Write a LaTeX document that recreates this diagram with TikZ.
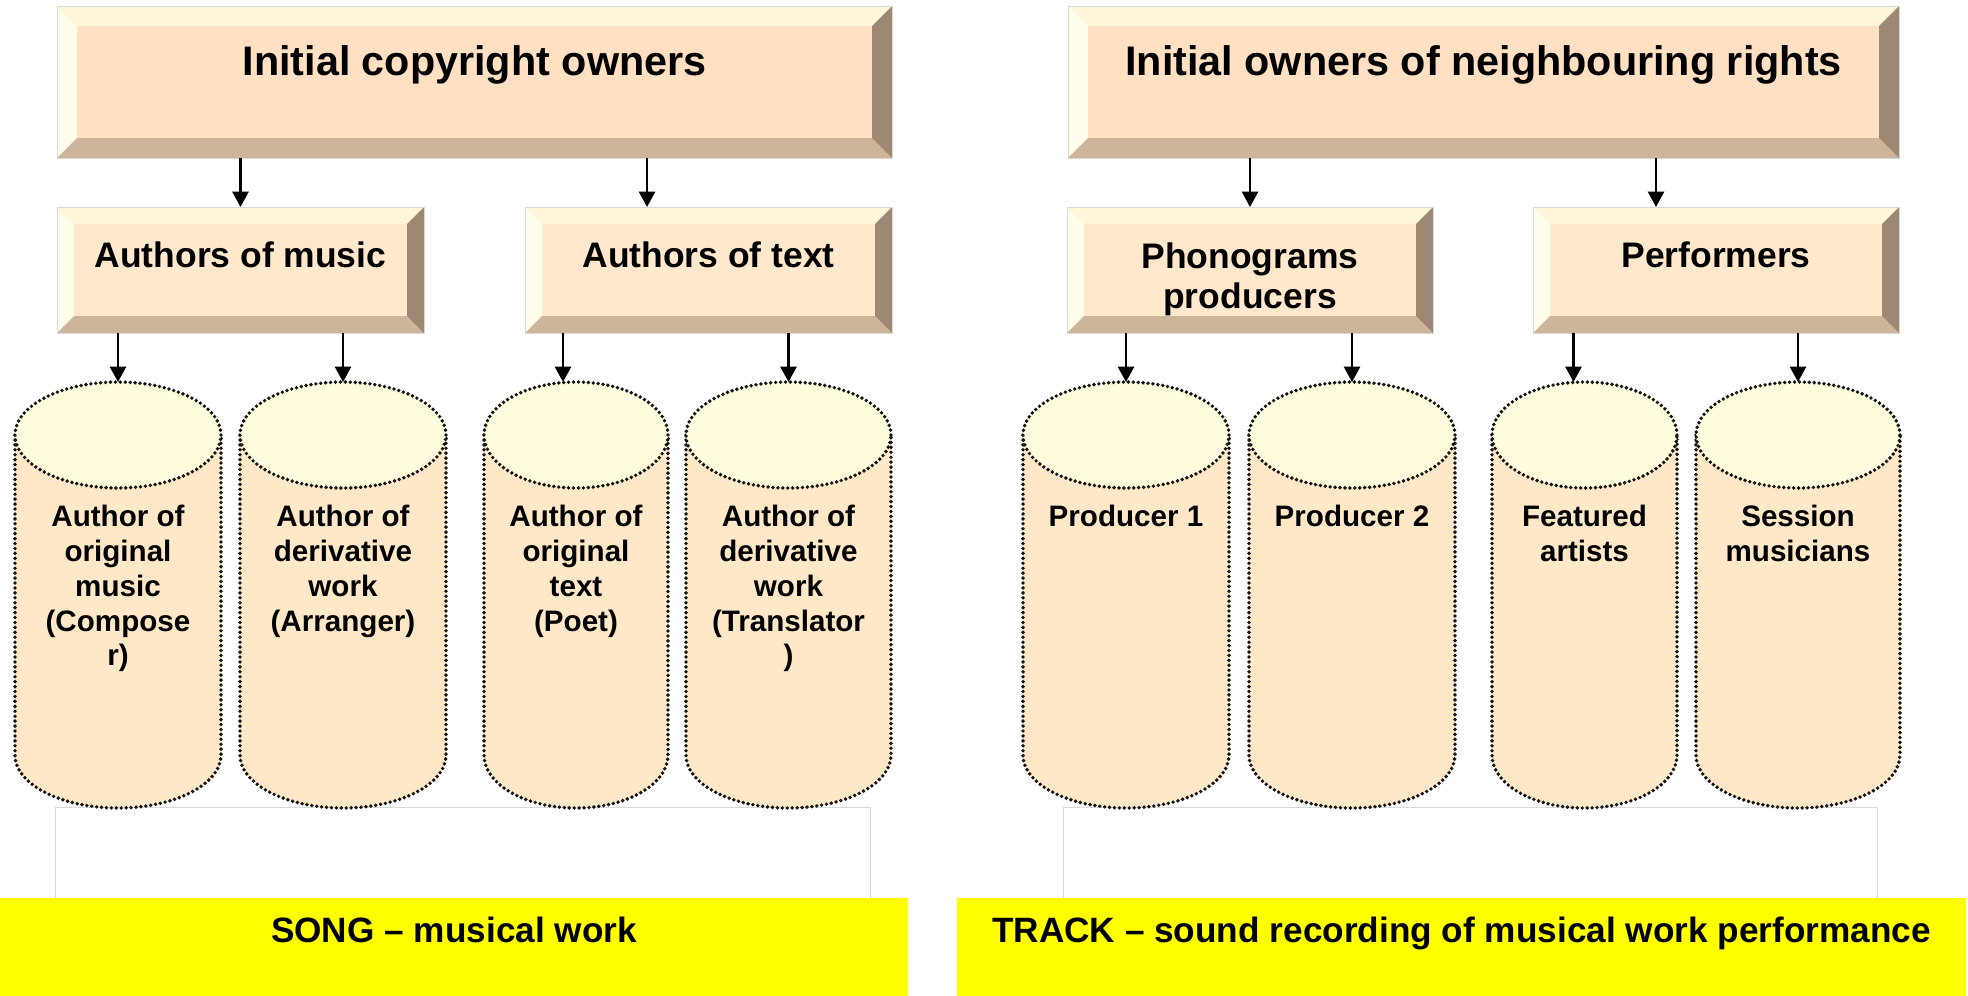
\documentclass[tikz,border=0pt]{standalone}
\usepackage{fontspec}
\setmainfont{Liberation Sans}
\usetikzlibrary{arrows.meta,fit}

\definecolor{bvtopc}{HTML}{FFF5D9}
\definecolor{bvleftc}{HTML}{FFFDE9}
\definecolor{bvbotc}{HTML}{CDB59B}
\definecolor{bvrightc}{HTML}{9C8873}
\definecolor{faceA}{HTML}{FFE0C2}
\definecolor{faceB}{HTML}{FFE8CC}
\definecolor{cyltopc}{HTML}{FFFDDE}
\definecolor{cylbodyc}{HTML}{FFE8C8}
\definecolor{bandc}{HTML}{FFFF00}
\definecolor{framec}{HTML}{D9D9D9}
\definecolor{dotc}{HTML}{151515}

\tikzset{
  arr/.style={line width=1.9pt,-{Triangle[width=12pt,length=11.5pt]}},
  dots/.style={dotc,line width=2.9pt,line cap=round,dash pattern=on 0pt off 3.7pt},
  toptext/.style={inner sep=0pt,anchor=north,font=\bfseries\fontsize{31pt}{37pt}\selectfont},
  midtext/.style={inner sep=0pt,anchor=north,align=center,font=\bfseries\fontsize{26.6pt}{30pt}\selectfont},
  cyltext/.style={inner sep=0pt,anchor=north,align=center,font=\bfseries\fontsize{22.2pt}{26.1pt}\selectfont},
  bandtext/.style={inner sep=0pt,anchor=north,font=\bfseries\fontsize{26.4pt}{31pt}\selectfont},
  frame/.style={draw=framec,fill=white,line width=0.75pt,inner sep=0pt,outer sep=0pt},
  band/.style={fill=bandc,inner sep=0pt,outer sep=0pt},
}

% bevelled box: name, x1, y1, x2, y2, bevel, face colour
\newcommand\bevelbox[7]{%
  \node[fit={(#2,#3)(#4,#5)},inner sep=0pt,outer sep=0pt,fill=#7] (#1) {};
  \fill[bvtopc] (#2,#3) -- (#4,#3) -- (#4-#6,#3+#6) -- (#2+#6,#3+#6) -- cycle;
  \fill[bvleftc] (#2,#3) -- (#2+#6,#3+#6) -- (#2+#6,#5-#6) -- (#2,#5) -- cycle;
  \fill[bvbotc] (#2,#5) -- (#2+#6,#5-#6) -- (#4-#6,#5-#6) -- (#4,#5) -- cycle;
  \fill[bvrightc] (#4,#3) -- (#4,#5) -- (#4-#6,#5-#6) -- (#4-#6,#3+#6) -- cycle;
  \draw[framec,line width=0.75pt] (#1.north west) rectangle (#1.south east);
}

% dotted drum: name, left, right, label
\newcommand\drum[4]{%
  \pgfmathsetmacro\drumcx{(#2+#3)/2}%
  \pgfmathsetmacro\drumrx{(#3-#2)*0.375}%
  \node[fit={(#2,382)(#3,808)},inner sep=0pt,outer sep=0pt] (#1) {};
  \fill[cylbodyc] (#2,435) -- (#2,755) arc[start angle=180,end angle=360,x radius=\drumrx pt,y radius=39.75pt] -- (#3,435) -- cycle;
  \draw[dots] (#2,435) -- (#2,755) arc[start angle=180,end angle=360,x radius=\drumrx pt,y radius=39.75pt] -- (#3,435);
  \draw[dots,fill=cyltopc] (\drumcx,435) ellipse[x radius=\drumrx pt,y radius=39.75pt];
  \node[cyltext] (#1-t) at ([yshift=-92.25pt]#1.north) {#4};
}

\begin{document}
\begin{tikzpicture}[x=0.75pt,y=-0.75pt]
\useasboundingbox (0,0) rectangle (1968,996);

% empty framed panels under the drums
\node[frame,fit={(55,807)(870,905)}] (panelL) {};
\node[frame,fit={(1063,807)(1877,905)}] (panelR) {};

% top level
\bevelbox{top1}{57}{6}{892}{158}{20}{faceA}
\bevelbox{top2}{1068}{6}{1899}{158}{20}{faceA}
\node[toptext] (top1-t) at ([yshift=-29.25pt]top1.north) {Initial copyright owners};
\node[toptext] (top2-t) at ([yshift=-29.25pt]top2.north) {Initial owners of neighbouring rights};

% second level
\bevelbox{mus}{57}{207}{424}{333}{17}{faceB}
\bevelbox{txt}{525}{207}{892}{333}{17}{faceB}
\bevelbox{pho}{1067}{207}{1433}{333}{17}{faceB}
\bevelbox{perf}{1533}{207}{1899}{333}{17}{faceB}
\node[midtext] (mus-t) at ([yshift=-26.25pt]mus.north) {Authors of music};
\node[midtext] (txt-t) at ([yshift=-26.25pt]txt.north) {Authors of text};
\node[midtext] (pho-t) at ([yshift=-27pt]pho.north) {Phonograms\\producers};
\node[midtext] (perf-t) at ([yshift=-26.25pt]perf.north) {Performers};

% drums
\drum{c1}{15}{221}{Author of\\original\\music\\(Compose\\r)}
\drum{c2}{240}{446}{Author of\\derivative\\work\\(Arranger)}
\drum{c3}{484}{668}{Author of\\original\\text\\(Poet)}
\drum{c4}{686}{891}{Author of\\derivative\\work\\(Translator\\)}
\drum{c5}{1023}{1229}{Producer 1}
\drum{c6}{1249}{1455}{Producer 2}
\drum{c7}{1492}{1677}{Featured\\artists}
\drum{c8}{1696}{1900}{Session\\musicians}

% arrows
\draw[arr] (top1.south -| mus.north) -- (mus.north);
\draw[arr] ([xshift=-46.1pt]txt.north |- top1.south) -- ([xshift=-46.1pt]txt.north);
\draw[arr] (top2.south -| pho.north) -- (pho.north);
\draw[arr] ([xshift=-45pt]perf.north |- top2.south) -- ([xshift=-45pt]perf.north);

\draw[arr] (mus.south -| c1.north) -- (c1.north);
\draw[arr] (mus.south -| c2.north) -- (c2.north);
\draw[arr] ([xshift=-9.75pt]c3.north |- txt.south) -- ([xshift=-9.75pt]c3.north);
\draw[arr] (txt.south -| c4.north) -- (c4.north);
\draw[arr] (pho.south -| c5.north) -- (c5.north);
\draw[arr] (pho.south -| c6.north) -- (c6.north);
\draw[arr] ([xshift=-8.25pt]c7.north |- perf.south) -- ([xshift=-8.25pt]c7.north);
\draw[arr] (perf.south -| c8.north) -- (c8.north);

% bottom captions
\node[band,fit={(0,898)(908,996)}] (song) {};
\node[band,fit={(957,898)(1966,996)}] (track) {};
\node[bandtext] (song-t) at ([yshift=-14.25pt]song.north) {SONG – musical work};
\node[bandtext] (track-t) at ([yshift=-14.25pt]track.north) {TRACK – sound recording of musical work performance};
\end{tikzpicture}
\end{document}
